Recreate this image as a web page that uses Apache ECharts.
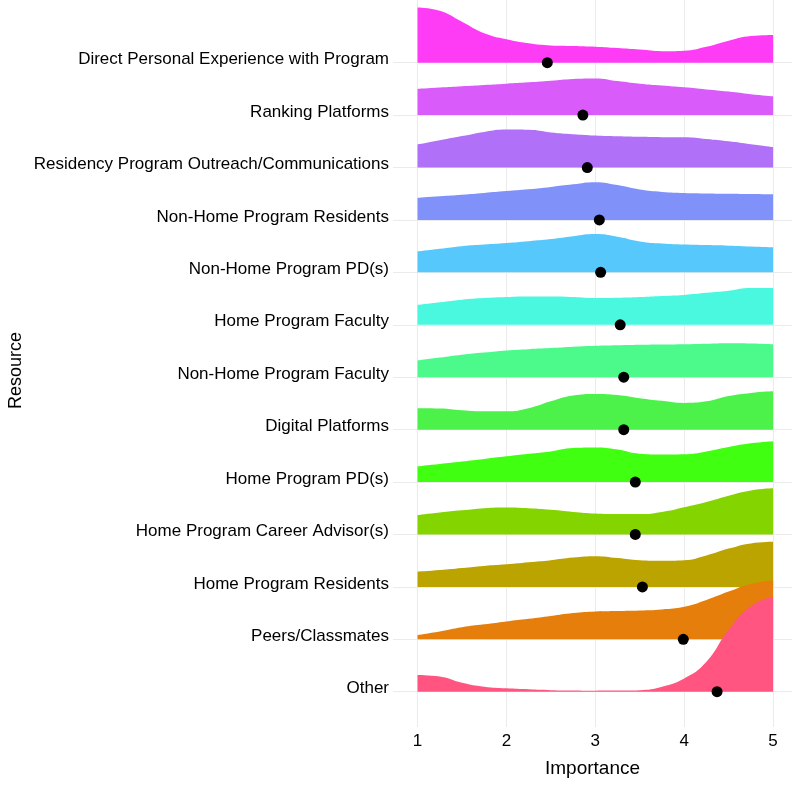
<!DOCTYPE html>
<html>
<head>
<meta charset="utf-8">
<script src="https://cdn.jsdelivr.net/npm/echarts@6/dist/echarts.min.js"></script>
<style>
html,body{margin:0;padding:0;background:#fff;}
#chart{width:800px;height:785px;}
</style>
</head>
<body>
<div id="chart"></div>
<script>
// Categories, top to bottom
var categories = [
  "Direct Personal Experience with Program",
  "Ranking Platforms",
  "Residency Program Outreach/Communications",
  "Non-Home Program Residents",
  "Non-Home Program PD(s)",
  "Home Program Faculty",
  "Non-Home Program Faculty",
  "Digital Platforms",
  "Home Program PD(s)",
  "Home Program Career Advisor(s)",
  "Home Program Residents",
  "Peers/Classmates",
  "Other"
];
var xTicks = [1, 2, 3, 4, 5];
// Importance grid where ridge heights were read
var importance = [1, 1.25, 1.5, 1.75, 2, 2.25, 2.5, 2.75, 3, 3.25, 3.5, 3.75, 4, 4.25, 4.5, 4.75, 5];
// Ridge heights (scaled density, in row-spacing units)
var dDirect      = [1.055, 0.99, 0.78, 0.56, 0.445, 0.37, 0.33, 0.32, 0.305, 0.28, 0.25, 0.22, 0.23, 0.305, 0.42, 0.51, 0.53];
var dRanking     = [0.50, 0.525, 0.55, 0.575, 0.60, 0.625, 0.655, 0.69, 0.70, 0.65, 0.60, 0.565, 0.53, 0.49, 0.45, 0.40, 0.36];
var dOutreach    = [0.44, 0.52, 0.60, 0.68, 0.725, 0.72, 0.67, 0.635, 0.61, 0.595, 0.585, 0.58, 0.58, 0.545, 0.50, 0.445, 0.39];
var dNHResidents = [0.42, 0.45, 0.48, 0.515, 0.55, 0.585, 0.63, 0.68, 0.72, 0.665, 0.58, 0.535, 0.515, 0.505, 0.50, 0.495, 0.49];
var dNHPD        = [0.40, 0.45, 0.50, 0.53, 0.56, 0.595, 0.635, 0.69, 0.73, 0.68, 0.59, 0.55, 0.53, 0.52, 0.51, 0.495, 0.48];
var dHFaculty    = [0.38, 0.43, 0.48, 0.51, 0.53, 0.54, 0.54, 0.53, 0.51, 0.515, 0.53, 0.55, 0.57, 0.61, 0.65, 0.70, 0.70];
var dNHFaculty   = [0.32, 0.375, 0.43, 0.47, 0.51, 0.535, 0.555, 0.58, 0.60, 0.61, 0.62, 0.625, 0.63, 0.64, 0.65, 0.645, 0.63];
var dDigital     = [0.41, 0.405, 0.37, 0.35, 0.35, 0.41, 0.54, 0.65, 0.68, 0.66, 0.60, 0.55, 0.51, 0.54, 0.64, 0.70, 0.73];
var dHPD         = [0.30, 0.345, 0.39, 0.44, 0.49, 0.54, 0.585, 0.65, 0.66, 0.62, 0.54, 0.525, 0.53, 0.585, 0.67, 0.74, 0.78];
var dCareer      = [0.37, 0.42, 0.46, 0.50, 0.515, 0.50, 0.47, 0.43, 0.40, 0.39, 0.39, 0.43, 0.52, 0.62, 0.74, 0.84, 0.88];
var dHResidents  = [0.29, 0.32, 0.36, 0.40, 0.43, 0.47, 0.51, 0.56, 0.585, 0.55, 0.51, 0.50, 0.51, 0.60, 0.73, 0.83, 0.86];
var dPeers       = [0.083, 0.15, 0.23, 0.285, 0.34, 0.39, 0.445, 0.50, 0.53, 0.54, 0.55, 0.57, 0.62, 0.75, 0.91, 1.055, 1.12];
var dOther       = [0.32, 0.29, 0.17, 0.095, 0.064, 0.045, 0.03, 0.025, 0.02, 0.022, 0.03, 0.095, 0.25, 0.57, 1.18, 1.63, 1.81];
var densities = [dDirect, dRanking, dOutreach, dNHResidents, dNHPD, dHFaculty, dNHFaculty, dDigital, dHPD, dCareer, dHResidents, dPeers, dOther];
// Mean importance (black dots)
var means = [2.46, 2.86, 2.91, 3.045, 3.06, 3.28, 3.32, 3.32, 3.45, 3.45, 3.53, 3.99, 4.37];
var colors = ["#FF3CF5", "#D95CFA", "#B070F8", "#8092FA", "#56C8FC", "#4AF8E0", "#4CFA8C",
              "#4CF24A", "#40FF10", "#84D400", "#BCA400", "#E57E0A", "#FF5580"];

var n = categories.length;
function baseOf(i) { return n - 1 - i; }
var FONT = 'Liberation Sans, Arial, sans-serif';

var series = [];
// gridlines
series.push({
  type: 'line', data: [], silent: true, z: 0,
  markLine: {
    silent: true, symbol: ['none', 'none'], label: {show: false}, z: 0,
    lineStyle: {color: '#EBEBEB', width: 1, type: 'solid'},
    animation: false,
    data: xTicks.map(function (v) { return {xAxis: v}; })
      .concat(categories.map(function (c, i) { return {yAxis: baseOf(i)}; }))
  }
});
categories.forEach(function (c, i) {
  var b = baseOf(i);
  series.push({
    name: c, type: 'line', silent: true, z: 2 + i * 0.01,
    smooth: 0.5, showSymbol: false, symbol: 'none',
    lineStyle: {width: 0, color: colors[i]},
    itemStyle: {color: colors[i]},
    areaStyle: {color: colors[i], opacity: 1, origin: b},
    data: importance.map(function (x, k) { return [x, b + densities[i][k]]; })
  });
});
series.push({
  type: 'scatter', z: 5, symbolSize: 11, silent: true,
  itemStyle: {color: '#000000', opacity: 1},
  data: means.map(function (m, i) { return [m, baseOf(i)]; })
});

var chart = echarts.init(document.getElementById('chart'), null, {renderer: 'canvas'});
chart.setOption({
  animation: false,
  backgroundColor: '#ffffff',
  textStyle: {fontFamily: FONT},
  grid: {left: 393, right: 8, top: 0, bottom: 58, containLabel: false, outerBoundsMode: 'none'},
  xAxis: {
    type: 'value', min: 0.724, max: 5.213,
    name: 'Importance', nameLocation: 'middle', nameGap: 32,
    nameTextStyle: {fontSize: 19, color: '#000', fontFamily: FONT},
    axisLine: {show: false}, axisTick: {show: false}, splitLine: {show: false},
    axisLabel: {customValues: xTicks, fontSize: 17, color: '#000', margin: 6, fontFamily: FONT}
  },
  yAxis: {
    type: 'value', min: -0.673, max: 13.196,
    name: 'Resource', nameLocation: 'middle', nameGap: 368, nameRotate: 90,
    nameTextStyle: {fontSize: 18, color: '#000', fontFamily: FONT, padding: [0, 14, 0, 0]},
    axisLine: {show: false}, axisTick: {show: false}, splitLine: {show: false},
    axisLabel: {
      customValues: categories.map(function (c, i) { return baseOf(i); }),
      formatter: function (v) { return categories[n - 1 - Math.round(v)]; },
      fontSize: 17, color: '#000', margin: 4, verticalAlign: 'bottom', lineHeight: 6,
      fontFamily: FONT
    }
  },
  series: series
});
</script>
</body>
</html>
